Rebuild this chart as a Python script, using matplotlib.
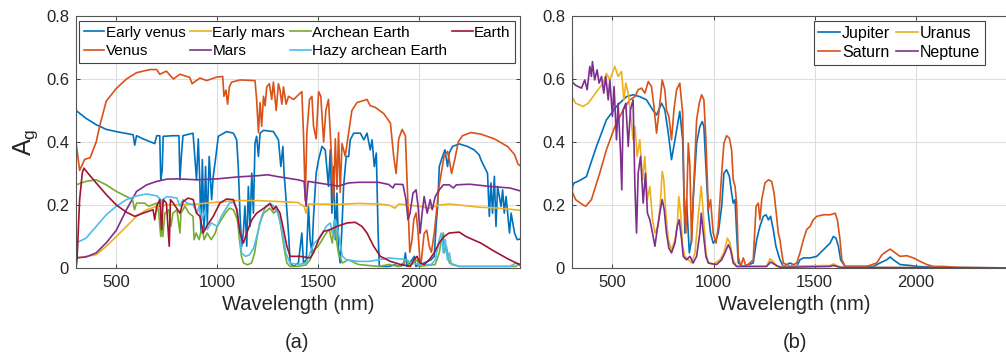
import numpy as np
import matplotlib
matplotlib.use('Agg')
import matplotlib.pyplot as plt

plt.rcParams['font.family'] = ['Liberation Sans', 'DejaVu Sans']
plt.rcParams['mathtext.default'] = 'regular'

# (wavelength nm, geometric albedo)
early_venus = [(300,.50),(350,.475),(400,.455),(450,.44),(500,.433),(583,.423),(591,.39),(600,.42),(632,.41),
               (690,.395),(700,.42),(715,.42),(720,.28),(727,.31),(732,.418),(782,.42),(810,.42),(815,.28),
               (823,.365),(830,.42),(880,.428),(897,.28),(906,.41),(914,.26),(919,.11),(926,.344),(934,.122),
               (942,.322),(950,.132),(960,.354),(972,.217),(980,.291),(993,.354),(1005,.418),(1046,.433),
               (1080,.428),(1096,.407),(1104,.322),(1113,.164),(1121,.069),(1129,.111),(1137,.196),(1146,.069),
               (1154,.259),(1162,.132),(1171,.301),(1179,.174),(1187,.396),(1195,.418),(1204,.354),(1212,.428),
               (1229,.437),(1278,.433),(1303,.407),(1315,.322),(1325,.386),(1331,.301),(1341,.217),(1353,.111),
               (1361,.016),(1378,.005),(1402,.016),(1419,.111),(1427,.016),(1441,.026),(1452,.196),(1460,.09),
               (1469,.048),(1477,.164),(1490,.301),(1502,.344),(1519,.386),(1535,.375),(1551,.259),(1560,.375),
               (1568,.174),(1576,.322),(1585,.09),(1593,.238),(1601,.058),(1609,.016),(1618,.132),(1626,.259),
               (1639,.354),(1651,.354),(1659,.407),(1676,.428),(1709,.428),(1726,.407),(1742,.428),(1758,.375),
               (1767,.407),(1778,.322),(1788,.365),(1797,.111),(1803,.005),(1850,.005),(1880,.01),(1900,.005),
               (1924,.01),(1932,.048),(1940,.005),(1977,.037),(1984,.005),(2025,.016),(2059,.026),(2075,.037),
               (2084,.132),(2092,.196),(2100,.322),(2116,.354),(2128,.375),(2141,.322),(2149,.365),(2166,.386),
               (2199,.394),(2239,.386),(2273,.375),(2298,.359),(2306,.344),(2323,.322),(2339,.301),(2348,.164),
               (2356,.27),(2364,.174),(2373,.291),(2381,.132),(2389,.259),(2406,.196),(2414,.248),(2422,.174),
               (2431,.227),(2440,.164),(2448,.111),(2456,.174),(2473,.111),(2486,.09),(2500,.092)]

venus = [(300,.40),(318,.31),(343,.345),(370,.35),(400,.40),(417,.45),(450,.53),(500,.57),(550,.60),(600,.62),
         (666,.63),(700,.63),(715,.615),(748,.625),(782,.60),(815,.615),(864,.605),(875,.585),(914,.603),
         (947,.595),(997,.606),(1027,.608),(1033,.545),(1043,.565),(1051,.52),(1060,.575),(1071,.59),
         (1113,.597),(1187,.595),(1195,.535),(1204,.43),(1212,.525),(1220,.45),(1229,.545),(1237,.515),
         (1245,.575),(1258,.585),(1270,.535),(1278,.59),(1292,.50),(1303,.585),(1311,.565),(1320,.52),
         (1328,.575),(1341,.52),(1353,.545),(1378,.535),(1419,.56),(1427,.43),(1436,.215),(1444,.43),
         (1457,.535),(1469,.545),(1477,.45),(1490,.41),(1502,.56),(1513,.545),(1527,.40),(1538,.50),
         (1551,.535),(1563,.39),(1576,.215),(1585,.41),(1593,.25),(1601,.43),(1609,.24),(1618,.395),
         (1634,.355),(1651,.43),(1667,.50),(1692,.525),(1742,.535),(1758,.515),(1783,.51),(1825,.49),
         (1858,.46),(1874,.355),(1886,.30),(1899,.41),(1916,.44),(1932,.42),(1944,.215),(1954,.05),
         (1965,.09),(1974,.155),(1985,.175),(1994,.12),(2004,.025),(2010,.015),(2025,.11),(2038,.12),
         (2050,.07),(2061,.05),(2075,.11),(2099,.26),(2124,.355),(2141,.37),(2149,.345),(2161,.30),
         (2177,.345),(2194,.40),(2215,.42),(2257,.43),(2306,.425),(2373,.41),(2440,.385),(2473,.36),
         (2490,.33),(2500,.325)]

early_mars = [(300,.032),(400,.042),(450,.069),(500,.10),(550,.132),(600,.164),(650,.185),(700,.196),(750,.20),
              (800,.20),(900,.203),(1000,.209),(1100,.214),(1200,.214),(1300,.211),(1400,.208),(1430,.196),
              (1440,.174),(1450,.203),(1500,.203),(1600,.202),(1700,.205),(1800,.203),(1850,.20),(1880,.19),
              (1900,.203),(1950,.20),(2000,.196),(2050,.19),(2100,.20),(2150,.203),(2200,.20),(2300,.193),
              (2400,.19),(2500,.183)]

mars = [(300,.032),(350,.035),(400,.048),(450,.08),(500,.12),(550,.185),(600,.243),(650,.264),(700,.275),
        (750,.282),(800,.283),(900,.28),(1000,.283),(1100,.289),(1200,.293),(1250,.296),(1300,.29),(1350,.285),
        (1400,.28),(1430,.275),(1440,.196),(1450,.275),(1500,.27),(1550,.265),(1600,.26),(1650,.27),(1700,.272),
        (1800,.272),(1850,.265),(1870,.254),(1880,.266),(1920,.265),(1935,.217),(1945,.153),(1955,.174),
        (1970,.238),(1985,.248),(1995,.196),(2005,.11),(2015,.174),(2025,.227),(2040,.174),(2055,.217),
        (2065,.185),(2080,.227),(2100,.248),(2120,.264),(2150,.264),(2170,.254),(2185,.264),(2250,.266),
        (2350,.259),(2450,.254),(2500,.245)]

archean = [(300,.264),(350,.275),(400,.28),(450,.264),(500,.243),(550,.227),(580,.217),(590,.185),(600,.206),
           (640,.206),(660,.196),(700,.206),(710,.174),(720,.10),(725,.164),(730,.10),(740,.174),(760,.185),
           (770,.132),(780,.174),(800,.185),(815,.111),(820,.174),(840,.196),(860,.174),(880,.164),(885,.09),
           (895,.111),(910,.09),(925,.132),(935,.09),(950,.111),(970,.09),(990,.111),(1000,.132),(1020,.153),
           (1040,.174),(1060,.19),(1080,.185),(1100,.153),(1110,.09),(1120,.037),(1130,.016),(1150,.01),
           (1170,.016),(1185,.048),(1195,.09),(1210,.143),(1230,.174),(1260,.19),(1280,.174),(1295,.185),
           (1310,.153),(1320,.111),(1335,.048),(1345,.016),(1360,.005),(1400,.005),(1440,.01),(1460,.026),
           (1480,.058),(1500,.069),(1520,.09),(1540,.111),(1555,.122),(1570,.079),(1580,.153),(1590,.09),
           (1600,.048),(1620,.016),(1650,.026),(1700,.011),(1800,.005),(1850,.011),(1900,.005),(1940,.026),
           (1950,.005),(1990,.026),(2000,.005),(2080,.011),(2100,.048),(2110,.09),(2120,.111),(2125,.048),
           (2135,.069),(2150,.016),(2200,.005),(2480,.005),(2490,.011),(2500,.008)]

hazy_archean = [(300,.079),(350,.095),(400,.132),(450,.169),(500,.196),(550,.217),(600,.229),(650,.235),(700,.229),
                (720,.217),(725,.174),(730,.217),(750,.227),(800,.222),(815,.196),(830,.217),(850,.206),(880,.201),
                (900,.174),(910,.196),(925,.153),(940,.185),(950,.122),(970,.143),(1000,.132),(1020,.164),
                (1040,.185),(1060,.206),(1080,.208),(1100,.185),(1110,.122),(1120,.048),(1140,.037),(1160,.042),
                (1180,.063),(1200,.111),(1220,.164),(1240,.196),(1260,.206),(1280,.196),(1300,.174),(1320,.122),
                (1340,.048),(1360,.016),(1400,.011),(1440,.016),(1460,.048),(1480,.079),(1500,.09),(1520,.111),
                (1540,.132),(1560,.143),(1570,.111),(1585,.153),(1600,.111),(1620,.037),(1640,.026),(1700,.021),
                (1750,.021),(1800,.026),(1850,.032),(1900,.029),(1940,.026),(1960,.016),(2000,.011),(2060,.011),
                (2080,.026),(2100,.09),(2110,.111),(2120,.048),(2130,.09),(2140,.026),(2150,.048),(2160,.011),
                (2200,.005),(2450,.005),(2480,.016),(2500,.011)]

earth = [(300,0),(305,.026),(318,.217),(331,.301),(339,.317),(359,.301),(400,.27),(450,.233),(500,.20),(550,.177),
         (591,.164),(632,.174),(682,.185),(690,.153),(700,.196),(715,.217),(724,.122),(732,.217),(748,.206),
         (762,.069),(768,.217),(782,.206),(815,.174),(831,.211),(856,.222),(881,.217),(897,.174),(914,.164),
         (930,.111),(947,.132),(980,.164),(1013,.206),(1046,.219),(1080,.217),(1096,.185),(1113,.111),
         (1129,.079),(1146,.111),(1171,.153),(1195,.174),(1245,.196),(1262,.204),(1278,.185),(1291,.196),
         (1311,.174),(1328,.122),(1345,.069),(1361,.037),(1411,.037),(1460,.032),(1477,.048),(1502,.09),
         (1527,.116),(1560,.122),(1593,.132),(1643,.143),(1684,.145),(1717,.132),(1742,.111),(1775,.069),
         (1808,.037),(1858,.021),(1908,.011),(1957,.005),(1974,.026),(1990,.037),(2004,.016),(2025,.011),
         (2050,.026),(2075,.048),(2099,.079),(2124,.10),(2149,.111),(2199,.114),(2232,.10),(2306,.079),
         (2373,.053),(2440,.029),(2481,.016),(2500,.011)]

jupiter = [(300,.23),(303,.26),(310,.27),(330,.275),(371,.29),(421,.386),(470,.47),(520,.513),(569,.544),(602,.55),
           (635,.544),(668,.534),(701,.50),(718,.486),(743,.523),(759,.502),(776,.428),(792,.344),(809,.407),
           (833,.497),(847,.407),(858,.111),(866,.217),(880,.048),(891,.09),(899,.217),(916,.396),(932,.449),
           (944,.465),(952,.449),(962,.322),(974,.174),(985,.111),(998,.079),(1012,.09),(1023,.111),(1040,.196),
           (1051,.301),(1064,.312),(1078,.291),(1089,.238),(1097,.206),(1106,.217),(1114,.111),(1122,.016),
           (1147,.005),(1196,.016),(1213,.09),(1229,.132),(1246,.164),(1259,.169),(1271,.153),(1282,.164),
           (1295,.122),(1308,.069),(1328,.026),(1345,.005),(1378,.016),(1411,.005),(1427,.026),(1444,.032),
           (1477,.032),(1510,.037),(1543,.058),(1576,.079),(1592,.10),(1605,.095),(1617,.069),(1628,.026),
           (1650,.005),(1790,.005),(1823,.016),(1856,.026),(1873,.035),(1889,.026),(1922,.011),(1972,.008),
           (2005,.005),(2100,.002),(2500,0)]

saturn = [(300,.243),(318,.217),(355,.20),(368,.196),(396,.217),(437,.301),(470,.375),(512,.449),(553,.502),
          (586,.534),(611,.544),(627,.566),(644,.571),(660,.555),(677,.592),(693,.576),(705,.513),(718,.428),
          (731,.502),(746,.597),(759,.566),(767,.502),(779,.481),(792,.407),(804,.502),(817,.566),(833,.587),
          (847,.492),(855,.196),(863,.111),(875,.396),(883,.322),(891,.079),(899,.217),(916,.47),(929,.523),
          (941,.55),(952,.534),(962,.407),(974,.185),(985,.217),(998,.111),(1012,.079),(1023,.132),(1040,.301),
          (1051,.396),(1064,.42),(1078,.412),(1089,.375),(1097,.28),(1106,.259),(1114,.206),(1122,.037),
          (1134,.005),(1147,.032),(1160,.005),(1196,.026),(1210,.196),(1221,.206),(1229,.153),(1238,.217),
          (1254,.27),(1271,.28),(1287,.275),(1299,.238),(1308,.185),(1320,.111),(1328,.09),(1337,.048),
          (1345,.016),(1378,.005),(1411,.016),(1427,.048),(1444,.09),(1460,.122),(1477,.132),(1493,.153),
          (1510,.164),(1543,.169),(1576,.169),(1601,.174),(1612,.153),(1625,.09),(1634,.026),(1650,.005),
          (1757,.005),(1807,.016),(1832,.042),(1856,.053),(1873,.06),(1898,.048),(1922,.037),(1955,.039),
          (1988,.032),(2021,.021),(2054,.011),(2087,.005),(2137,.005),(2200,.002),(2500,0)]

uranus = [(300,.544),(318,.523),(355,.513),(380,.523),(404,.544),(429,.566),(454,.587),(470,.618),(487,.597),
          (512,.64),(528,.608),(545,.624),(556,.534),(566,.587),(578,.555),(589,.492),(602,.407),(611,.449),
          (622,.354),(635,.407),(649,.28),(660,.354),(672,.217),(685,.259),(698,.153),(710,.111),(726,.132),
          (738,.217),(746,.307),(754,.28),(764,.174),(776,.09),(792,.058),(809,.09),(820,.132),(828,.227),
          (837,.174),(847,.069),(858,.037),(875,.026),(891,.016),(908,.048),(924,.164),(939,.259),(949,.174),
          (962,.048),(974,.016),(998,.011),(1031,.026),(1051,.048),(1068,.095),(1081,.079),(1097,.026),
          (1114,.005),(1262,.005),(1279,.029),(1295,.021),(1312,.005),(1576,.008),(1592,.013),(1609,.008),
          (1634,.002),(2500,0)]

neptune = [(300,.772),(302,.59),(318,.58),(347,.571),(363,.597),(375,.566),(388,.64),(396,.608),(401,.655),
           (412,.597),(424,.629),(434,.587),(446,.608),(457,.555),(467,.608),(479,.534),(487,.597),(500,.481),
           (508,.576),(520,.407),(528,.523),(540,.365),(546,.248),(553,.502),(566,.523),(578,.386),(589,.502),
           (602,.534),(611,.259),(619,.111),(627,.301),(639,.354),(652,.206),(663,.301),(673,.174),(685,.153),
           (698,.111),(710,.069),(721,.122),(734,.174),(746,.217),(756,.185),(767,.111),(779,.063),(792,.048),
           (809,.079),(820,.132),(830,.153),(842,.09),(850,.037),(866,.026),(883,.037),(899,.016),(916,.037),
           (932,.111),(939,.174),(949,.111),(962,.037),(974,.016),(1015,.011),(1040,.026),(1056,.048),
           (1073,.074),(1084,.058),(1097,.016),(1114,.005),(1262,.005),(1282,.019),(1303,.011),(1328,.002),
           (1576,.005),(1592,.008),(1625,.002),(2500,0)]

yticks = [0, 0.2, 0.4, 0.6, 0.8]
ytick_labels = ['0', '0.2', '0.4', '0.6', '0.8']
xticks = [500, 1000, 1500, 2000]

# MATLAB default line colours
blue, orange, yellow, purple = '#0072BD', '#D95319', '#EDB120', '#7E2F8E'
green, cyan, darkred = '#77AC30', '#4DBEEE', '#A2142F'

fig = plt.figure(figsize=(10.06, 3.58), dpi=100)
ax1 = fig.add_axes([76/1006, 90/358, 444/1006, 252/358])
ax2 = fig.add_axes([572/1006, 90/358, 445/1006, 252/358])


def style(ax):
    ax.set_xlim(300, 2500)
    ax.set_ylim(0, 0.8)
    ax.set_xticks(xticks)
    ax.set_yticks(yticks)
    ax.set_yticklabels(ytick_labels)
    ax.grid(True, color='#dedede', linewidth=0.8)
    ax.set_axisbelow(True)
    ax.tick_params(direction='in', top=True, right=True, length=3, width=0.6,
                   labelsize=12, colors='#262626', pad=5)
    for s in ax.spines.values():
        s.set_color('#555555')
        s.set_linewidth(0.8)
    ax.set_xlabel('Wavelength (nm)', fontsize=14.5, color='#262626', labelpad=4)


def draw(ax, series, color, label):
    wl, ag = np.array(series).T
    ax.plot(wl, ag, color=color, lw=1.2, label=label)


draw(ax1, early_venus, blue, 'Early venus')
draw(ax1, venus, orange, 'Venus')
draw(ax1, early_mars, yellow, 'Early mars')
draw(ax1, mars, purple, 'Mars')
draw(ax1, archean, green, 'Archean Earth')
draw(ax1, hazy_archean, cyan, 'Hazy archean Earth')
draw(ax1, earth, darkred, 'Earth')
style(ax1)
ax1.set_ylabel('A$_g$', fontsize=18, color='#262626', labelpad=4)
leg1 = ax1.legend(ncol=4, loc='upper left', bbox_to_anchor=(0.007, 0.0, 0.982, 0.98), mode='expand',
                  borderaxespad=0, fontsize=11, handlelength=1.35, handletextpad=0.1, columnspacing=0.3,
                  labelspacing=0.3, borderpad=0.3, fancybox=False, framealpha=1, edgecolor='#444444')
leg1.get_frame().set_linewidth(0.8)

draw(ax2, jupiter, blue, 'Jupiter')
draw(ax2, saturn, orange, 'Saturn')
draw(ax2, uranus, yellow, 'Uranus')
draw(ax2, neptune, purple, 'Neptune')
style(ax2)
leg2 = ax2.legend(ncol=2, loc='upper right', bbox_to_anchor=(0.928, 0.98), borderaxespad=0, fontsize=11.5,
                  handlelength=1.35, handletextpad=0.12, columnspacing=0.4, labelspacing=0.25, borderpad=0.3,
                  fancybox=False, framealpha=1, edgecolor='#444444')
leg2.get_frame().set_linewidth(0.8)

fig.text(297/1006, 1 - 342/358, '(a)', fontsize=14.5, ha='center', va='center', color='#262626')
fig.text(795/1006, 1 - 342/358, '(b)', fontsize=14.5, ha='center', va='center', color='#262626')

fig.savefig('out.png', dpi=100)
